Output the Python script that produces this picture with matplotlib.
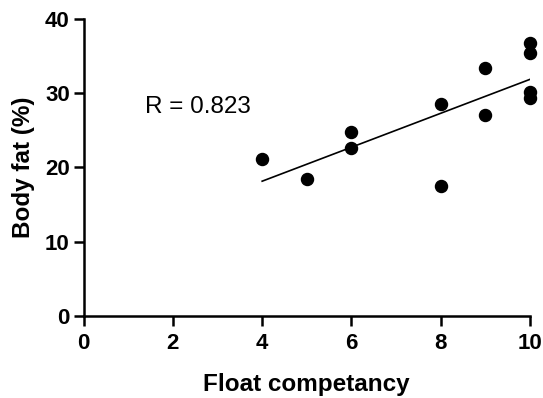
import matplotlib
matplotlib.use("Agg")
import matplotlib.pyplot as plt
import numpy as np

float_comp = [4, 5, 6, 6, 8, 8, 9, 9, 10, 10, 10, 10]
body_fat = [21.1, 18.5, 24.7, 22.6, 28.5, 17.5, 33.4, 27.1, 36.7, 35.4, 30.2, 29.3]
r_label = "R = 0.823"

plt.rcParams["font.family"] = ["Liberation Sans", "DejaVu Sans"]

fig = plt.figure(figsize=(5.43, 3.98), dpi=100)
ax = fig.add_axes([0.154, 0.206, 0.822, 0.747])

ax.scatter(float_comp, body_fat, s=75, color="black", zorder=3, clip_on=False)

slope, icpt = np.polyfit(float_comp, body_fat, 1)
xs = np.array([min(float_comp), max(float_comp)])
ax.plot(xs, slope * xs + icpt, color="black", lw=1.2)

ax.text(1.37, 28.1, r_label, fontsize=17.5, va="center", ha="left")

ax.set_xlim(0, 10)
ax.set_ylim(0, 40)
ax.set_xticks([0, 2, 4, 6, 8, 10])
ax.set_yticks([0, 10, 20, 30, 40])
for s in ["top", "right"]:
    ax.spines[s].set_visible(False)
for s in ["left", "bottom"]:
    ax.spines[s].set_linewidth(1.8)
ax.tick_params(width=1.8, length=7, labelsize=16, pad=3)
ax.tick_params(axis="x", pad=5)
for lab in ax.get_xticklabels() + ax.get_yticklabels():
    lab.set_fontweight("bold")

ax.set_xlabel("Float competancy", fontsize=17.5, fontweight="bold", labelpad=14)
ax.set_ylabel("Body fat (%)", fontsize=17.5, fontweight="bold", labelpad=7)

fig.savefig("out.png", dpi=100)
